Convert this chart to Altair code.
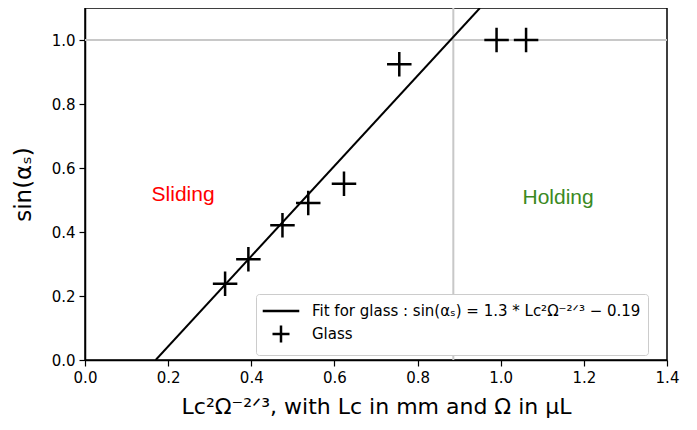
import altair as alt
import pandas as pd

# Data
glass_x = [0.337, 0.393, 0.475, 0.537, 0.623, 0.756, 0.990, 1.061]
glass_y = [0.238, 0.315, 0.421, 0.491, 0.551, 0.924, 1.000, 1.000]
fit_x = [0.17, 0.95]
fit_y = [0.0, 1.1]
x_crit = [0.886]
y_crit = [1.0]
region_labels = ["Sliding", "Holding"]
region_x = [0.236, 1.138]
region_y = [0.517, 0.505]
region_colors = ["#ff0000", "#3b8a1f"]

fit_label = "Fit for glass : sin(αₛ) = 1.3 * Lc²Ω⁻²ᐟ³ − 0.19"
glass_label = "Glass"

x_scale = alt.Scale(domain=[0, 1.4], nice=False, zero=False)
y_scale = alt.Scale(domain=[0, 1.1], nice=False, zero=False)

glass_df = pd.DataFrame({"x": glass_x, "y": glass_y, "series": glass_label})
fit_df = pd.DataFrame({"x": fit_x, "y": fit_y})
vrule_df = pd.DataFrame({"x": x_crit})
hrule_df = pd.DataFrame({"y": y_crit})
text_df = pd.DataFrame({"label": region_labels, "x": region_x, "y": region_y, "c": region_colors})

x_axis = alt.Axis(
    title="Lc²Ω⁻²ᐟ³, with Lc in mm and Ω in μL",
    values=[0, 0.2, 0.4, 0.6, 0.8, 1.0, 1.2, 1.4],
    format=".1f",
    grid=False,
    titleFontSize=22,
)
y_axis = alt.Axis(
    title="sin(αₛ)",
    values=[0, 0.2, 0.4, 0.6, 0.8, 1.0],
    format=".1f",
    grid=False,
    titleFontSize=23,
)

W, H = 582, 352

vrule = alt.Chart(vrule_df).mark_rule(color="#c8c8c8", strokeWidth=2).encode(
    x=alt.X("x:Q", scale=x_scale, axis=x_axis),
    y=alt.value(0),
    y2=alt.value(H),
)
hrule = alt.Chart(hrule_df).mark_rule(color="#c8c8c8", strokeWidth=2).encode(
    y=alt.Y("y:Q", scale=y_scale, axis=y_axis),
    x=alt.value(0),
    x2=alt.value(W),
)

fit_line = alt.Chart(fit_df).mark_line(color="black", strokeWidth=2, clip=True).encode(
    x=alt.X("x:Q", scale=x_scale, axis=x_axis),
    y=alt.Y("y:Q", scale=y_scale, axis=y_axis),
)

points = alt.Chart(glass_df).mark_point(
    filled=False, color="black", strokeWidth=2.5, size=600, opacity=1
).encode(
    x=alt.X("x:Q", scale=x_scale, axis=x_axis),
    y=alt.Y("y:Q", scale=y_scale, axis=y_axis),
    shape=alt.Shape(
        "series:N",
        scale=alt.Scale(
            domain=[fit_label, glass_label],
            range=["M-2.15,0L2.15,0", "M-1,0L1,0M0,-1L0,1"],
        ),
        legend=alt.Legend(
            title=None,
            orient="none",
            legendX=171,
            legendY=286,
            padding=7,
            strokeColor="#cccccc",
            fillColor="white",
            cornerRadius=3,
            symbolSize=289,
            symbolStrokeWidth=2.5,
            symbolStrokeColor="black",
            symbolFillColor="transparent",
            labelFont="DejaVu Sans",
            labelFontSize=15,
            labelColor="black",
            rowPadding=1,
            symbolOffset=8,
            labelOffset=21,
            labelLimit=600,
        ),
    ),
)

texts = alt.Chart(text_df).mark_text(font="Liberation Sans", fontSize=21, align="center", baseline="middle").encode(
    x=alt.X("x:Q", scale=x_scale, axis=x_axis),
    y=alt.Y("y:Q", scale=y_scale, axis=y_axis),
    text="label:N",
    color=alt.Color("c:N", scale=None, legend=None),
)

chart = (
    alt.layer(vrule, hrule, fit_line, texts, points)
    .properties(
        width=W,
        height=H,
        autosize=alt.AutoSizeParams(type="none"),
        padding={"left": 77, "top": 0, "right": 22, "bottom": 70},
    )
    .configure_view(stroke="black", strokeWidth=1.5)
    .configure_axis(
        domainColor="black",
        domainWidth=1.5,
        tickColor="black",
        tickSize=6,
        tickWidth=1.2,
        labelFont="DejaVu Sans",
        labelFontSize=15,
        labelColor="black",
        labelPadding=4,
        titleFont="DejaVu Sans",
        titleFontWeight="normal",
        titleColor="black",
    )
    .configure_axisX(titlePadding=11, labelFlush=False)
    .configure_axisY(titlePadding=16, labelFlush=False)
)

chart.save("out.html", embed_options={"renderer": "svg", "actions": False})
